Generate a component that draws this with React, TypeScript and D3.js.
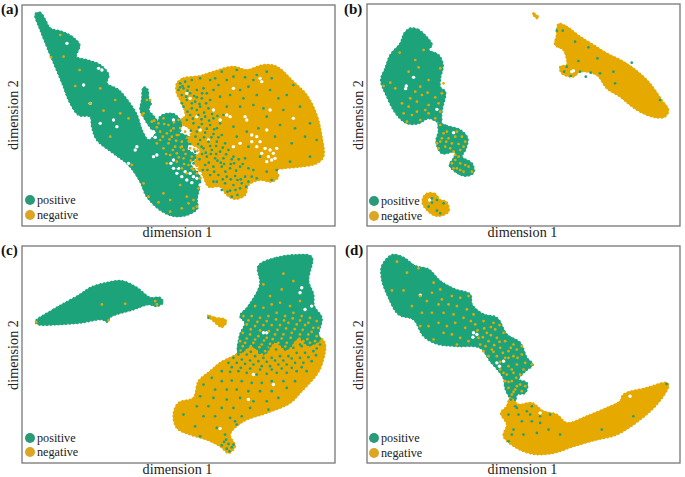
import React from 'react';
import * as d3 from 'd3';

type Pt = [number, number];

const GREEN = '#1fa37a';
const YELLOW = '#e5a905';
const LEGEND_GREEN = '#2a9a78';
const LEGEND_YELLOW = '#dca526';

// all embedding values are in arbitrary units

// panel a
const aGreenBlob: Pt[] = [[105,42],[120,38],[135,60],[150,85],[185,95],[215,110],[238,135],[228,170],[260,180],[300,195],[325,225],[320,250],[355,270],[385,305],[410,345],[425,390],[445,420],[470,395],[480,350],[520,342],[545,372],[535,395],[570,415],[560,445],[590,470],[570,490],[600,530],[590,600],[592,625],[560,645],[520,648],[480,630],[440,590],[420,545],[385,495],[340,460],[290,420],[275,380],[270,350],[235,345],[205,300],[190,260],[165,200],[140,140],[120,90]];
const aSpur: Pt[] = [[430,262],[442,268],[445,295],[452,310],[445,330],[462,350],[475,375],[465,395],[445,375],[430,350],[420,330],[425,300]];
const aYellowBlob: Pt[] = [[530,250],[550,235],[600,228],[640,215],[700,200],[740,210],[790,195],[830,200],[880,245],[920,285],[950,345],[965,410],[970,470],[950,490],[900,500],[850,505],[830,510],[835,530],[815,545],[780,540],[745,555],[735,585],[705,597],[680,585],[660,560],[625,560],[610,530],[585,490],[600,450],[565,425],[575,395],[545,365],[555,340],[540,300],[530,280]];
const aHoles: Pt[] = [[455,405],[465,412],[445,395],[460,395],[512,490],[520,505],[530,520],[545,530],[560,540],[575,548],[590,535],[600,555],[610,560],[570,520],[590,500],[810,450],[820,460],[805,470],[825,475],[795,445],[830,445],[815,480],[780,425],[770,410],[755,405],[740,360],[735,350],[700,265],[780,235],[785,245],[560,280],[570,295],[590,350],[550,345],[520,360],[270,310],[300,370],[340,360],[350,380],[410,440],[405,450],[385,490],[460,470],[470,465],[200,130],[250,255],[295,205],[305,210],[690,350],[680,345],[660,360],[640,330],[810,330],[880,355],[800,390],[720,430],[700,440],[600,390],[625,420],[535,505],[555,515],[580,530],[600,520],[520,480],[785,460],[800,485],[770,440],[755,425]];
const aGreenDots: Pt[] = [[540,250],[555,245],[575,240],[600,235],[535,270],[550,265],[565,260],[545,285],[570,280],[590,270],[610,265],[560,300],[585,305],[605,295],[630,300],[550,320],[575,325],[600,320],[625,325],[570,345],[595,345],[615,350],[640,355],[580,370],[605,372],[630,375],[650,385],[590,395],[615,398],[640,402],[665,405],[600,420],[625,425],[650,425],[675,430],[610,445],[635,450],[660,455],[685,450],[620,470],[645,475],[670,475],[695,478],[615,495],[640,500],[665,500],[690,505],[720,500],[630,525],[655,525],[680,530],[705,528],[735,530],[650,545],[675,550],[700,555],[725,550],[690,572],[712,585],[720,565],[660,290],[680,240],[645,235],[700,230],[655,255],[710,210],[735,232],[770,225],[800,215],[745,260],[690,285],[730,295],[770,285],[810,270],[860,285],[880,255],[835,295],[680,320],[720,320],[760,315],[800,350],[850,330],[900,320],[930,370],[885,385],[840,375],[700,380],[740,395],[670,345],[775,385],[825,410],[875,430],[915,410],[870,485],[930,470],[710,410],[745,440],[780,470],[800,515],[815,540],[830,510],[760,510],[735,475],[700,470],[770,535],[745,545],[660,370],[560,360],[545,310],[590,330],[620,280],[640,270],[630,240],[665,215],[815,235],[790,325],[950,420],[720,270],[760,240]];
const aGreenExtra: Pt[] = [[547,258],[562,272],[582,288],[598,312],[612,338],[627,362],[642,388],[655,412],[668,443],[678,463],[692,492],[708,512],[722,538],[738,560],[648,462],[630,438],[612,412],[596,382],[578,356],[562,335],[540,262],[558,290],[575,310],[590,292],[606,280],[618,310],[636,342],[652,348],[604,358],[620,386],[634,412],[648,438],[662,488],[676,515],[692,538],[706,570],[668,538],[642,515],[626,488],[606,462],[594,432],[586,410],[572,392],[604,440],[617,458],[632,462],[652,482],[672,492],[702,490],[716,478],[728,492],[745,505],[755,530],[712,540],[695,590],[682,575],[665,570],[640,545],[622,510],[608,510],[598,478],[585,455],[570,432],[555,410],[540,392],[526,372],[508,362],[495,380],[560,440],[545,470],[530,500],[565,505],[580,490]];
const aYellowDots: Pt[] = [[180,105],[152,172],[190,170],[225,258],[238,210],[310,332],[360,340],[385,355],[330,410],[395,495],[430,550],[475,607],[510,635],[560,590],[580,625],[565,610],[490,580],[445,590],[270,310],[345,300],[300,265],[430,340],[440,300],[450,300],[425,345],[455,365],[475,370],[490,355],[505,375],[480,395],[500,400],[520,385],[535,360],[550,375],[515,410],[535,405],[555,395],[575,385],[505,430],[525,440],[545,425],[565,415],[585,410],[510,465],[530,460],[550,450],[570,445],[590,435],[500,490],[530,485],[550,475],[575,470],[595,465],[545,505],[565,495],[585,485],[605,490],[560,520],[580,510],[610,515],[600,535],[595,565],[580,600],[545,625],[590,620],[510,600],[540,555],[480,420],[490,445],[470,430],[565,355],[585,375],[605,410],[620,440],[635,480],[610,470]];
const aYellowExtra: Pt[] = [[512,392],[528,422],[542,442],[556,462],[572,482],[590,498],[522,368],[540,384],[558,412],[574,428],[592,452],[602,428],[492,372],[470,382],[462,362],[508,418],[518,450],[536,472],[552,492],[582,448],[598,400],[572,402],[546,358],[560,378],[578,420],[590,468],[612,500],[624,462],[488,410],[498,462],[575,505],[590,520],[545,440],[530,405]];

// panel b
const bGreenBlob: Pt[] = [[210,85],[235,90],[260,112],[275,135],[265,150],[295,165],[308,195],[300,235],[300,262],[315,275],[305,330],[303,350],[302,368],[265,355],[235,370],[200,370],[170,345],[140,290],[122,240],[135,205],[150,165],[180,130],[192,100]];
const bNeck: Pt[] = [[295,370],[320,378],[360,390],[382,415],[375,450],[365,470],[395,490],[400,518],[375,528],[345,515],[328,495],[340,475],[345,455],[305,460],[288,425],[295,395]];
const bIsland: Pt[] = [[262,580],[285,582],[300,600],[318,605],[325,635],[290,648],[265,635],[247,610],[250,590]];
const bYellowBlob: Pt[] = [[655,72],[680,80],[720,110],[760,135],[800,160],[850,185],[880,205],[925,245],[965,300],[985,330],[975,350],[945,352],[900,335],[870,315],[840,290],[800,265],[770,225],[720,215],[700,230],[665,220],[660,200],[680,195],[670,150],[645,135],[650,105]];
const bStreak: Pt[] = [[577,40],[583,41],[595,52],[590,55]];
const bHoles: Pt[] = [[198,258],[196,266],[220,232],[700,212],[695,215],[290,328],[340,398],[268,600]];
const bYellowDots: Pt[] = [[178,158],[205,215],[235,202],[150,248],[130,258],[265,240],[240,260],[245,285],[225,275],[210,295],[262,278],[285,292],[305,280],[295,310],[265,315],[255,330],[230,305],[205,320],[190,340],[215,345],[200,365],[240,360],[265,340],[285,355],[300,335],[230,335],[185,310],[165,265],[225,180],[250,150],[300,205],[310,250],[300,375],[320,395],[345,410],[365,410],[335,430],[355,432],[375,425],[300,425],[315,440],[295,445],[340,455],[360,450],[310,400],[345,480],[335,490],[360,490],[385,500],[350,505],[370,515],[395,515],[355,470],[262,590],[280,595],[255,610],[300,610],[310,625],[285,640],[270,625],[320,630],[295,625],[325,415],[350,395],[330,445],[305,415],[370,440],[345,465],[375,495],[360,510],[340,505],[290,430],[318,425],[275,585],[290,615]];
const bGreenDots: Pt[] = [[650,92],[668,92],[705,125],[745,142],[680,200],[672,215],[692,228],[720,215],[737,230],[752,218],[772,175],[780,220],[825,250],[875,188],[820,215],[715,183],[960,300],[275,595],[290,600],[265,620],[290,632],[300,640],[310,610],[275,608]];

// panel c
const cGreenLeft: Pt[] = [[105,252],[160,215],[240,170],[270,150],[320,135],[365,130],[410,150],[450,180],[480,180],[488,195],[470,205],[445,200],[400,215],[330,238],[322,252],[305,245],[240,255],[170,260],[115,260]];
const cSliverY: Pt[] = [[622,232],[645,240],[675,245],[678,255],[665,268],[640,250]];
const cGreenTop: Pt[] = [[775,85],[830,60],[890,52],[935,58],[925,130],[940,170],[942,205],[965,240],[955,290],[960,305],[925,322],[895,300],[860,335],[825,312],[790,350],[755,325],[715,345],[720,290],[735,255],[720,235],[745,205],[780,140]];
const cYellowBlob: Pt[] = [[975,318],[965,380],[950,410],[905,460],[870,495],[800,525],[730,550],[690,590],[705,625],[685,645],[660,625],[620,605],[570,590],[530,570],[520,530],[535,495],[580,480],[595,430],[630,400],[660,375],[715,345],[755,300],[800,300],[860,295],[900,285],[955,295]];
const cHoles: Pt[] = [[905,150],[900,165],[915,215],[790,285],[800,285],[745,485],[660,572],[820,440],[760,410],[935,205]];
const cYellowDots: Pt[] = [[850,108],[790,140],[845,155],[810,175],[880,130],[765,205],[790,210],[815,200],[840,195],[870,205],[900,190],[730,235],[755,235],[780,240],[805,235],[830,225],[855,235],[880,225],[905,235],[930,240],[950,250],[740,260],[765,265],[790,262],[815,262],[840,262],[865,255],[890,260],[915,262],[940,270],[728,285],[750,290],[775,295],[800,300],[825,290],[850,290],[875,285],[900,290],[925,290],[950,295],[735,315],[760,315],[785,320],[810,318],[835,315],[860,315],[885,315],[910,310],[930,315],[722,338],[745,335],[770,340],[795,340],[820,338],[845,340],[870,335],[720,310],[955,270],[325,248],[375,198],[465,190],[305,200],[108,253],[470,200]];
const cYellowExtra: Pt[] = [[745,248],[772,252],[800,250],[828,245],[852,248],[878,242],[900,248],[925,255],[752,275],[780,278],[806,280],[832,276],[858,272],[884,274],[908,276],[935,282],[740,302],[765,305],[792,308],[818,304],[845,302],[872,300],[898,302],[922,304],[945,310],[728,325],[752,325],[778,328],[804,330],[830,328],[856,326],[882,328],[905,328],[930,330],[950,328],[960,318],[735,345],[760,348],[785,350],[815,350],[840,350],[865,348],[890,350],[915,342]];
const cGreenDots: Pt[] = [[715,350],[740,350],[765,355],[790,360],[815,360],[840,355],[865,355],[890,345],[915,345],[940,340],[685,375],[710,375],[735,378],[760,380],[785,385],[810,385],[835,380],[860,380],[885,375],[910,375],[935,370],[665,400],[690,402],[715,400],[740,405],[770,410],[800,408],[830,405],[860,405],[890,400],[920,400],[635,420],[665,430],[695,428],[725,430],[755,435],[785,435],[815,430],[850,430],[885,430],[610,440],[645,455],[680,455],[710,455],[745,460],[780,460],[815,460],[860,450],[600,475],[640,480],[680,485],[720,480],[760,490],[800,490],[835,480],[590,505],[625,505],[665,510],[700,510],[750,510],[805,515],[550,530],[610,535],[645,535],[690,540],[725,535],[585,565],[650,570],[710,560],[600,595],[675,590],[705,550],[672,612],[685,618],[695,628],[680,632],[688,640],[665,622],[678,605],[700,620],[625,240],[960,320]];
const cGreenExtra: Pt[] = [[728,340],[752,342],[778,345],[802,332],[828,335],[855,335],[880,330],[905,325],[930,322],[950,332],[748,318],[775,312],[800,312],[825,310],[850,308],[875,308],[900,320],[700,360],[725,365],[750,368],[775,370],[800,372],[825,368],[850,368],[875,362],[900,360],[925,358],[948,352],[695,388],[722,390],[750,392],[780,395],[815,395],[845,392],[875,390],[905,388]];

// panel d
const dGreenBlob: Pt[] = [[155,52],[190,60],[225,85],[265,95],[300,130],[345,155],[390,170],[395,200],[430,230],[470,240],[500,290],[540,315],[560,360],[578,380],[555,400],[535,425],[560,435],[555,465],[530,470],[525,490],[510,480],[495,450],[490,420],[450,370],[420,330],[350,325],[290,318],[250,295],[220,245],[175,230],[145,180],[125,125],[125,85]];
const dYellowBlob: Pt[] = [[510,480],[535,500],[575,495],[610,520],[650,530],[680,555],[740,535],[800,510],[840,490],[850,470],[920,450],[980,435],[985,445],[950,500],[900,545],[830,590],[770,605],[700,625],[640,645],[580,648],[530,630],[490,595],[500,560],[482,525],[500,505]];
const dHoles: Pt[] = [[400,285],[410,290],[398,298],[470,375],[490,370],[478,385],[600,525],[870,475],[240,172]];
const dYellowDots: Pt[] = [[170,72],[235,92],[200,105],[155,158],[190,158],[280,135],[300,155],[240,175],[215,205],[275,165],[305,185],[335,175],[360,180],[385,175],[260,190],[295,200],[325,200],[350,205],[380,215],[245,225],[275,225],[310,225],[340,230],[370,240],[400,230],[265,265],[295,255],[320,265],[345,255],[375,270],[405,260],[430,250],[460,255],[310,285],[335,290],[360,300],[385,310],[415,300],[440,285],[465,275],[490,285],[420,320],[445,310],[470,300],[495,310],[520,320],[430,340],[455,335],[480,330],[505,340],[530,335],[545,325],[445,355],[470,355],[495,360],[520,355],[545,350],[555,375],[575,380],[480,395],[505,385],[530,380],[550,395],[500,410],[520,405],[540,410],[495,430],[515,430],[540,440],[555,445],[505,450],[525,455],[545,460],[515,470],[515,490],[350,320],[240,265],[280,305],[432,272],[452,268],[478,262],[412,278],[392,250],[428,298],[452,292],[478,312],[436,325],[462,322],[488,345],[512,330],[460,342],[480,372],[505,360],[532,360],[490,405],[515,395],[528,420],[505,432],[530,445],[520,462]];
const dGreenDots: Pt[] = [[512,485],[525,505],[505,530],[535,530],[560,520],[575,505],[545,550],[575,550],[600,555],[520,575],[515,590],[550,590],[505,610],[590,585],[625,575],[660,590],[785,575],[880,535],[980,438],[600,535],[530,510],[570,530],[630,530]];

// per panel: frame in page px, domain of the reading grid
const panels = [
  { letter: '(a)', lx: 1, ly: 14, frame: [22, 5, 335, 226], dom: [65, 1005, 15, 678],
    blobs: [[aGreenBlob, GREEN], [aSpur, GREEN], [aYellowBlob, YELLOW]], holes: aHoles, dots: [[aYellowDots, YELLOW], [aYellowExtra, YELLOW], [aGreenDots, GREEN], [aGreenExtra, GREEN]],
    legX: 30, legY: [200, 215], labelY: 237, dim2X: 13, dim2Y: 115 },
  { letter: '(b)', lx: 344, ly: 14, frame: [367, 4, 680, 226], dom: [80, 1020, 12, 678],
    blobs: [[bGreenBlob, GREEN], [bNeck, GREEN], [bIsland, YELLOW], [bYellowBlob, YELLOW], [bStreak, YELLOW]], holes: bHoles, dots: [[bYellowDots, YELLOW], [bGreenDots, GREEN]],
    legX: 374, legY: [201, 216], labelY: 237, dim2X: 358, dim2Y: 115 },
  { letter: '(c)', lx: 1, ly: 255, frame: [22, 246, 335, 463], dom: [65, 1005, 25, 675],
    blobs: [[cGreenLeft, GREEN], [cSliverY, YELLOW], [cYellowBlob, YELLOW], [cGreenTop, GREEN]], holes: cHoles, dots: [[cYellowDots, YELLOW], [cYellowExtra, YELLOW], [cGreenDots, GREEN], [cGreenExtra, GREEN]],
    legX: 30, legY: [438, 452], labelY: 474, dim2X: 13, dim2Y: 355 },
  { letter: '(d)', lx: 345, ly: 255, frame: [367, 246, 680, 463], dom: [80, 1020, 25, 675],
    blobs: [[dGreenBlob, GREEN], [dYellowBlob, YELLOW]], holes: dHoles, dots: [[dYellowDots, YELLOW], [dGreenDots, GREEN]],
    legX: 374, legY: [438, 453], labelY: 474, dim2X: 358, dim2Y: 355 },
] as any[];

const SERIF = '"Liberation Serif", "Times New Roman", serif';

const Panel = ({ p }: { p: any }) => {
  const [x0, y0, x1, y1] = p.frame;
  const x = d3.scaleLinear().domain([p.dom[0], p.dom[1]]).range([x0, x1]);
  const y = d3.scaleLinear().domain([p.dom[2], p.dom[3]]).range([y0, y1]);
  const outline = d3.line<Pt>().x(d => x(d[0])).y(d => y(d[1])).curve(d3.curveCatmullRomClosed.alpha(0.5));
  const cx = (x0 + x1) / 2;

  return (
    <g>
      <rect x={x0} y={y0} width={x1 - x0} height={y1 - y0} fill="white" stroke="#777" strokeWidth={1.3} />
      <g filter="url(#soft)">
        {p.blobs.map(([pts, color]: any, i: number) => (
          <g key={i}>
            <path d={outline(pts) as string} fill={color} stroke={color} strokeWidth={1} strokeLinejoin="round" />
            {/* bumpy rim made of round dashes */}
            <path d={outline(pts) as string} fill="none" stroke={color} strokeWidth={2.2} strokeLinecap="round" strokeDasharray="0.1 3.7" />
          </g>
        ))}
        {p.holes.map((d: Pt, i: number) => (
          <circle key={i} cx={x(d[0])} cy={y(d[1])} r={1.7} fill="white" />
        ))}
        {p.dots.map(([pts, color]: any, k: number) =>
          pts.map((d: Pt, i: number) => (
            <circle key={k + '-' + i} cx={x(d[0])} cy={y(d[1])} r={1.35} fill={color} />
          ))
        )}
      </g>
      <circle cx={p.legX} cy={p.legY[0]} r={5} fill={LEGEND_GREEN} />
      <circle cx={p.legX} cy={p.legY[1]} r={5} fill={LEGEND_YELLOW} />
      <text x={p.legX + 7} y={p.legY[0] + 4} fontSize={12.2} fontFamily={SERIF} fill="#222">positive</text>
      <text x={p.legX + 7} y={p.legY[1] + 4} fontSize={12.2} fontFamily={SERIF} fill="#222">negative</text>
      <text x={cx - 1} y={p.labelY} fontSize={14.2} fontFamily={SERIF} fill="#222" textAnchor="middle">dimension 1</text>
      <text transform={`translate(${p.dim2X + 5},${p.dim2Y}) rotate(-90)`} fontSize={14.2} fontFamily={SERIF} fill="#222" textAnchor="middle">dimension 2</text>
      <text x={p.lx} y={p.ly} fontSize={15} fontWeight="bold" fontFamily={SERIF} fill="#111">{p.letter}</text>
    </g>
  );
};

export default function App() {
  return (
    <svg width={685} height={477} style={{ position: 'absolute', left: 0, top: 0, background: 'white' }}>
      <defs>
        <filter id="soft" x="-5%" y="-5%" width="110%" height="110%">
          <feGaussianBlur stdDeviation={0.35} />
        </filter>
      </defs>
      {panels.map(p => <Panel key={p.letter} p={p} />)}
    </svg>
  );
}
